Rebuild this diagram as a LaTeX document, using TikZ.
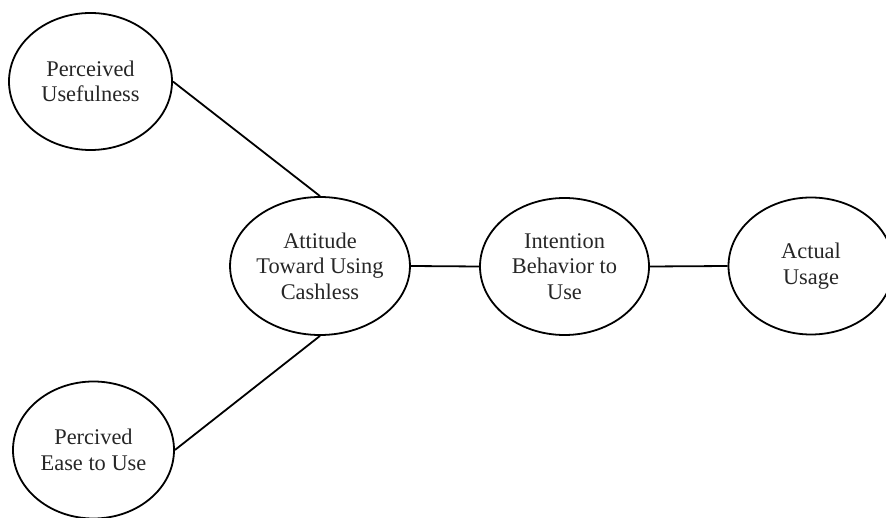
\documentclass[tikz,border=0pt]{standalone}
\usepackage{fontspec}
\setmainfont{Liberation Serif}
\usetikzlibrary{shapes.geometric}
\tikzset{
  ell/.style={ellipse, draw=black, line width=1.8pt, inner sep=0pt,
    minimum height=137pt, align=center, text=black!85,
    font=\fontsize{22.4pt}{25.5pt}\selectfont},
  link/.style={draw=black, line width=1.8pt}
}
\begin{document}
\begin{tikzpicture}[x=1pt,y=1pt]
\useasboundingbox (0,0) rectangle (886,517);
\node[ell, minimum width=163pt] (pu) at (90.5,435.5) {Perceived\\Usefulness};
\node[ell, minimum width=161pt] (peu) at (93.5,67) {Percived\\Ease to Use};
\node[ell, minimum width=164pt, minimum height=138pt] (att) at (320,251) {Attitude\\Toward Using\\Cashless};
\node[ell, minimum width=169pt] (int) at (564.5,250.5) {Intention\\Behavior to\\Use};
\node[ell, minimum width=165pt] (act) at (811,251) {Actual\\Usage};
\draw[link] (pu.east) -- (att.north);
\draw[link] (peu.east) -- (att.south);
\draw[link] (att.east) -- (int.west);
\draw[link] (int.east) -- (act.west);
\end{tikzpicture}
\end{document}
